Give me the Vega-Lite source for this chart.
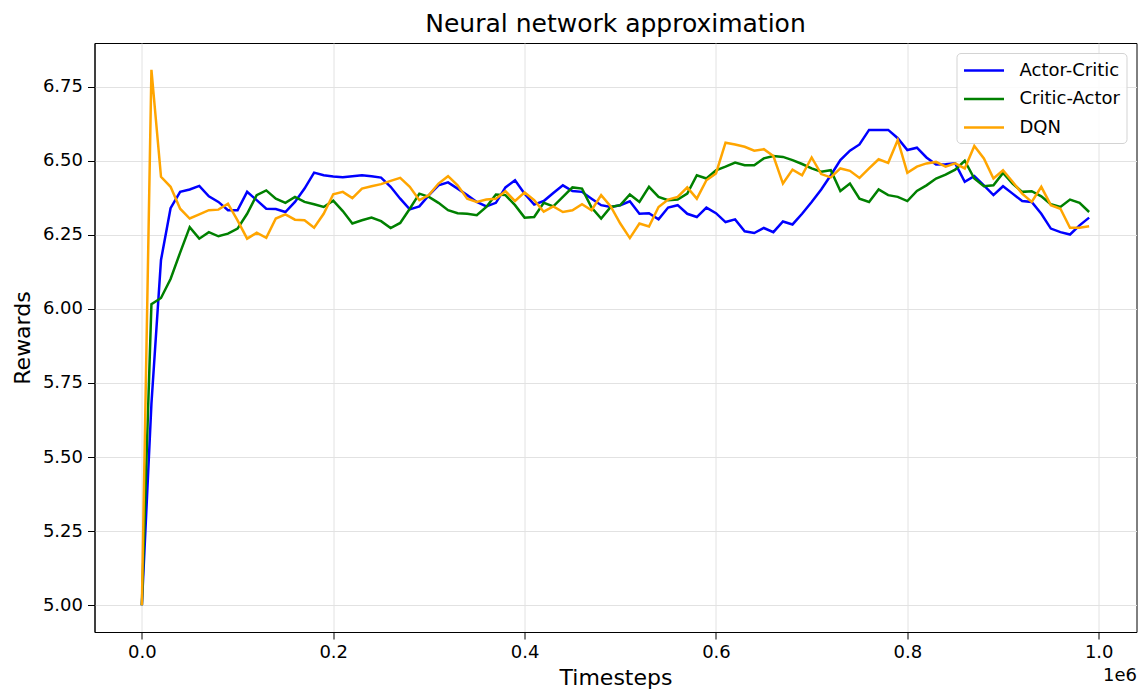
{
  "$schema": "https://vega.github.io/schema/vega-lite/v6.json",
  "width": 1042,
  "height": 589,
  "autosize": {"type": "none"},
  "padding": {"left": 94.5, "top": 43, "right": 3.5, "bottom": 64},
  "background": "white",
  "config": {
    "font": "DejaVu Sans",
    "view": {"stroke": "black", "strokeWidth": 1},
    "axis": {
      "labelColor": "black", "titleColor": "black", "tickColor": "black", "domainColor": "black",
      "titleFontWeight": "normal", "labelFont": "DejaVu Sans", "titleFont": "DejaVu Sans",
      "gridColor": "#e2e2e2", "gridWidth": 1
    }
  },
  "title": {"text": "Neural network approximation", "fontSize": 25, "fontWeight": "normal", "color": "black", "offset": 6, "font": "DejaVu Sans"},
  "data": {"values": [
    {"t":0,"Actor-Critic":5.0,"Critic-Actor":5.0,"DQN":5.0},
    {"t":10000,"Actor-Critic":5.68,"Critic-Actor":6.016,"DQN":6.807},
    {"t":20000,"Actor-Critic":6.165,"Critic-Actor":6.037,"DQN":6.446},
    {"t":30000,"Actor-Critic":6.34,"Critic-Actor":6.101,"DQN":6.412},
    {"t":40000,"Actor-Critic":6.395,"Critic-Actor":6.19,"DQN":6.338},
    {"t":50000,"Actor-Critic":6.403,"Critic-Actor":6.276,"DQN":6.305},
    {"t":60000,"Actor-Critic":6.415,"Critic-Actor":6.237,"DQN":6.319},
    {"t":70000,"Actor-Critic":6.38,"Critic-Actor":6.259,"DQN":6.333},
    {"t":80000,"Actor-Critic":6.361,"Critic-Actor":6.245,"DQN":6.335},
    {"t":90000,"Actor-Critic":6.333,"Critic-Actor":6.254,"DQN":6.355},
    {"t":100000,"Actor-Critic":6.333,"Critic-Actor":6.271,"DQN":6.299},
    {"t":110000,"Actor-Critic":6.395,"Critic-Actor":6.321,"DQN":6.237},
    {"t":120000,"Actor-Critic":6.367,"Critic-Actor":6.384,"DQN":6.257},
    {"t":130000,"Actor-Critic":6.338,"Critic-Actor":6.4,"DQN":6.24},
    {"t":140000,"Actor-Critic":6.337,"Critic-Actor":6.372,"DQN":6.305},
    {"t":150000,"Actor-Critic":6.327,"Critic-Actor":6.358,"DQN":6.319},
    {"t":160000,"Actor-Critic":6.361,"Critic-Actor":6.378,"DQN":6.301},
    {"t":170000,"Actor-Critic":6.406,"Critic-Actor":6.361,"DQN":6.299},
    {"t":180000,"Actor-Critic":6.46,"Critic-Actor":6.353,"DQN":6.274},
    {"t":190000,"Actor-Critic":6.451,"Critic-Actor":6.344,"DQN":6.321},
    {"t":200000,"Actor-Critic":6.447,"Critic-Actor":6.365,"DQN":6.387},
    {"t":210000,"Actor-Critic":6.444,"Critic-Actor":6.33,"DQN":6.395},
    {"t":220000,"Actor-Critic":6.448,"Critic-Actor":6.288,"DQN":6.374},
    {"t":230000,"Actor-Critic":6.451,"Critic-Actor":6.299,"DQN":6.406},
    {"t":240000,"Actor-Critic":6.448,"Critic-Actor":6.308,"DQN":6.414},
    {"t":250000,"Actor-Critic":6.443,"Critic-Actor":6.296,"DQN":6.421},
    {"t":260000,"Actor-Critic":6.412,"Critic-Actor":6.273,"DQN":6.432},
    {"t":270000,"Actor-Critic":6.372,"Critic-Actor":6.29,"DQN":6.442},
    {"t":280000,"Actor-Critic":6.336,"Critic-Actor":6.338,"DQN":6.412},
    {"t":290000,"Actor-Critic":6.346,"Critic-Actor":6.389,"DQN":6.367},
    {"t":300000,"Actor-Critic":6.384,"Critic-Actor":6.378,"DQN":6.384},
    {"t":310000,"Actor-Critic":6.417,"Critic-Actor":6.358,"DQN":6.423},
    {"t":320000,"Actor-Critic":6.427,"Critic-Actor":6.333,"DQN":6.448},
    {"t":330000,"Actor-Critic":6.406,"Critic-Actor":6.323,"DQN":6.417},
    {"t":340000,"Actor-Critic":6.384,"Critic-Actor":6.321,"DQN":6.372},
    {"t":350000,"Actor-Critic":6.361,"Critic-Actor":6.316,"DQN":6.361},
    {"t":360000,"Actor-Critic":6.346,"Critic-Actor":6.344,"DQN":6.369},
    {"t":370000,"Actor-Critic":6.358,"Critic-Actor":6.386,"DQN":6.372},
    {"t":380000,"Actor-Critic":6.41,"Critic-Actor":6.384,"DQN":6.397},
    {"t":390000,"Actor-Critic":6.434,"Critic-Actor":6.35,"DQN":6.364},
    {"t":400000,"Actor-Critic":6.389,"Critic-Actor":6.308,"DQN":6.393},
    {"t":410000,"Actor-Critic":6.352,"Critic-Actor":6.31,"DQN":6.367},
    {"t":420000,"Actor-Critic":6.364,"Critic-Actor":6.358,"DQN":6.328},
    {"t":430000,"Actor-Critic":6.391,"Critic-Actor":6.346,"DQN":6.346},
    {"t":440000,"Actor-Critic":6.417,"Critic-Actor":6.378,"DQN":6.327},
    {"t":450000,"Actor-Critic":6.398,"Critic-Actor":6.41,"DQN":6.333},
    {"t":460000,"Actor-Critic":6.395,"Critic-Actor":6.406,"DQN":6.353},
    {"t":470000,"Actor-Critic":6.372,"Critic-Actor":6.342,"DQN":6.333},
    {"t":480000,"Actor-Critic":6.35,"Critic-Actor":6.305,"DQN":6.384},
    {"t":490000,"Actor-Critic":6.344,"Critic-Actor":6.344,"DQN":6.346},
    {"t":500000,"Actor-Critic":6.35,"Critic-Actor":6.35,"DQN":6.288},
    {"t":510000,"Actor-Critic":6.363,"Critic-Actor":6.386,"DQN":6.239},
    {"t":520000,"Actor-Critic":6.321,"Critic-Actor":6.361,"DQN":6.288},
    {"t":530000,"Actor-Critic":6.323,"Critic-Actor":6.412,"DQN":6.278},
    {"t":540000,"Actor-Critic":6.302,"Critic-Actor":6.378,"DQN":6.344},
    {"t":550000,"Actor-Critic":6.342,"Critic-Actor":6.367,"DQN":6.369},
    {"t":560000,"Actor-Critic":6.35,"Critic-Actor":6.369,"DQN":6.378},
    {"t":570000,"Actor-Critic":6.321,"Critic-Actor":6.389,"DQN":6.41},
    {"t":580000,"Actor-Critic":6.31,"Critic-Actor":6.451,"DQN":6.372},
    {"t":590000,"Actor-Critic":6.342,"Critic-Actor":6.44,"DQN":6.434},
    {"t":600000,"Actor-Critic":6.323,"Critic-Actor":6.468,"DQN":6.457},
    {"t":610000,"Actor-Critic":6.293,"Critic-Actor":6.48,"DQN":6.561},
    {"t":620000,"Actor-Critic":6.302,"Critic-Actor":6.494,"DQN":6.555},
    {"t":630000,"Actor-Critic":6.262,"Critic-Actor":6.485,"DQN":6.547},
    {"t":640000,"Actor-Critic":6.256,"Critic-Actor":6.485,"DQN":6.534},
    {"t":650000,"Actor-Critic":6.273,"Critic-Actor":6.508,"DQN":6.539},
    {"t":660000,"Actor-Critic":6.259,"Critic-Actor":6.516,"DQN":6.516},
    {"t":670000,"Actor-Critic":6.295,"Critic-Actor":6.513,"DQN":6.423},
    {"t":680000,"Actor-Critic":6.285,"Critic-Actor":6.502,"DQN":6.47},
    {"t":690000,"Actor-Critic":6.321,"Critic-Actor":6.489,"DQN":6.451},
    {"t":700000,"Actor-Critic":6.361,"Critic-Actor":6.474,"DQN":6.511},
    {"t":710000,"Actor-Critic":6.403,"Critic-Actor":6.463,"DQN":6.455},
    {"t":720000,"Actor-Critic":6.451,"Critic-Actor":6.468,"DQN":6.444},
    {"t":730000,"Actor-Critic":6.502,"Critic-Actor":6.398,"DQN":6.474},
    {"t":740000,"Actor-Critic":6.534,"Critic-Actor":6.423,"DQN":6.466},
    {"t":750000,"Actor-Critic":6.555,"Critic-Actor":6.372,"DQN":6.442},
    {"t":760000,"Actor-Critic":6.604,"Critic-Actor":6.361,"DQN":6.474},
    {"t":770000,"Actor-Critic":6.604,"Critic-Actor":6.403,"DQN":6.505},
    {"t":780000,"Actor-Critic":6.604,"Critic-Actor":6.384,"DQN":6.493},
    {"t":790000,"Actor-Critic":6.576,"Critic-Actor":6.378,"DQN":6.57},
    {"t":800000,"Actor-Critic":6.536,"Critic-Actor":6.364,"DQN":6.459},
    {"t":810000,"Actor-Critic":6.544,"Critic-Actor":6.398,"DQN":6.48},
    {"t":820000,"Actor-Critic":6.511,"Critic-Actor":6.417,"DQN":6.491},
    {"t":830000,"Actor-Critic":6.487,"Critic-Actor":6.44,"DQN":6.496},
    {"t":840000,"Actor-Critic":6.488,"Critic-Actor":6.453,"DQN":6.48},
    {"t":850000,"Actor-Critic":6.491,"Critic-Actor":6.47,"DQN":6.491},
    {"t":860000,"Actor-Critic":6.429,"Critic-Actor":6.5,"DQN":6.474},
    {"t":870000,"Actor-Critic":6.448,"Critic-Actor":6.44,"DQN":6.55},
    {"t":880000,"Actor-Critic":6.417,"Critic-Actor":6.414,"DQN":6.508},
    {"t":890000,"Actor-Critic":6.384,"Critic-Actor":6.417,"DQN":6.44},
    {"t":900000,"Actor-Critic":6.414,"Critic-Actor":6.459,"DQN":6.468},
    {"t":910000,"Actor-Critic":6.389,"Critic-Actor":6.423,"DQN":6.429},
    {"t":920000,"Actor-Critic":6.364,"Critic-Actor":6.395,"DQN":6.389},
    {"t":930000,"Actor-Critic":6.361,"Critic-Actor":6.397,"DQN":6.361},
    {"t":940000,"Actor-Critic":6.321,"Critic-Actor":6.38,"DQN":6.412},
    {"t":950000,"Actor-Critic":6.271,"Critic-Actor":6.353,"DQN":6.35},
    {"t":960000,"Actor-Critic":6.259,"Critic-Actor":6.344,"DQN":6.338},
    {"t":970000,"Actor-Critic":6.251,"Critic-Actor":6.369,"DQN":6.274},
    {"t":980000,"Actor-Critic":6.282,"Critic-Actor":6.358,"DQN":6.274},
    {"t":990000,"Actor-Critic":6.308,"Critic-Actor":6.327,"DQN":6.279}
  ]},
  "transform": [{"fold": ["Actor-Critic", "Critic-Actor", "DQN"], "as": ["series", "reward"]}],
  "layer": [
    {
      "mark": {"type": "line", "strokeWidth": 2.5, "clip": true},
      "encoding": {
        "x": {
          "field": "t", "type": "quantitative",
          "scale": {"domain": [-49500, 1039500], "nice": false, "zero": false},
          "axis": {
            "values": [0, 200000, 400000, 600000, 800000, 1000000],
            "labelExpr": "format(datum.value / 1000000, '.1f')",
            "title": "Timesteps", "titleFontSize": 22, "labelFontSize": 18,
            "tickSize": 7, "labelPadding": 4, "titlePadding": 6, "grid": true, "labelFlush": false
          }
        },
        "y": {
          "field": "reward", "type": "quantitative",
          "scale": {"domain": [4.9097, 6.8973], "nice": false, "zero": false},
          "axis": {
            "values": [5, 5.25, 5.5, 5.75, 6, 6.25, 6.5, 6.75],
            "format": ".2f", "title": "Rewards", "titleFontSize": 22, "labelFontSize": 18,
            "tickSize": 7, "labelPadding": 5, "titlePadding": 8, "grid": true
          }
        },
        "color": {
          "field": "series", "type": "nominal",
          "scale": {"domain": ["Actor-Critic", "Critic-Actor", "DQN"], "range": ["#0000ff", "#008000", "#ffa500"]},
          "legend": {
            "title": null, "orient": "top-right", "offset": 10,
            "symbolType": "M-1,0H3", "symbolSize": 400, "symbolStrokeWidth": 2.5,
            "labelFontSize": 18, "labelColor": "black", "labelOffset": 34,
            "padding": 6, "rowPadding": 7.5,
            "strokeColor": "#d3d3d3", "fillColor": "rgba(255,255,255,0.85)", "cornerRadius": 4
          }
        }
      }
    },
    {
      "mark": {"type": "point", "opacity": 0},
      "encoding": {
        "x": {
          "field": "t", "type": "quantitative",
          "scale": {"domain": [-49500, 1039500], "nice": false, "zero": false},
          "axis": {
            "orient": "bottom", "title": "1e6", "titleAnchor": "end", "titleAlign": "right",
            "titleFontSize": 18, "titlePadding": 34, "labels": false, "ticks": false,
            "domain": false, "grid": false
          }
        }
      }
    }
  ],
  "resolve": {"axis": {"x": "independent"}}
}
